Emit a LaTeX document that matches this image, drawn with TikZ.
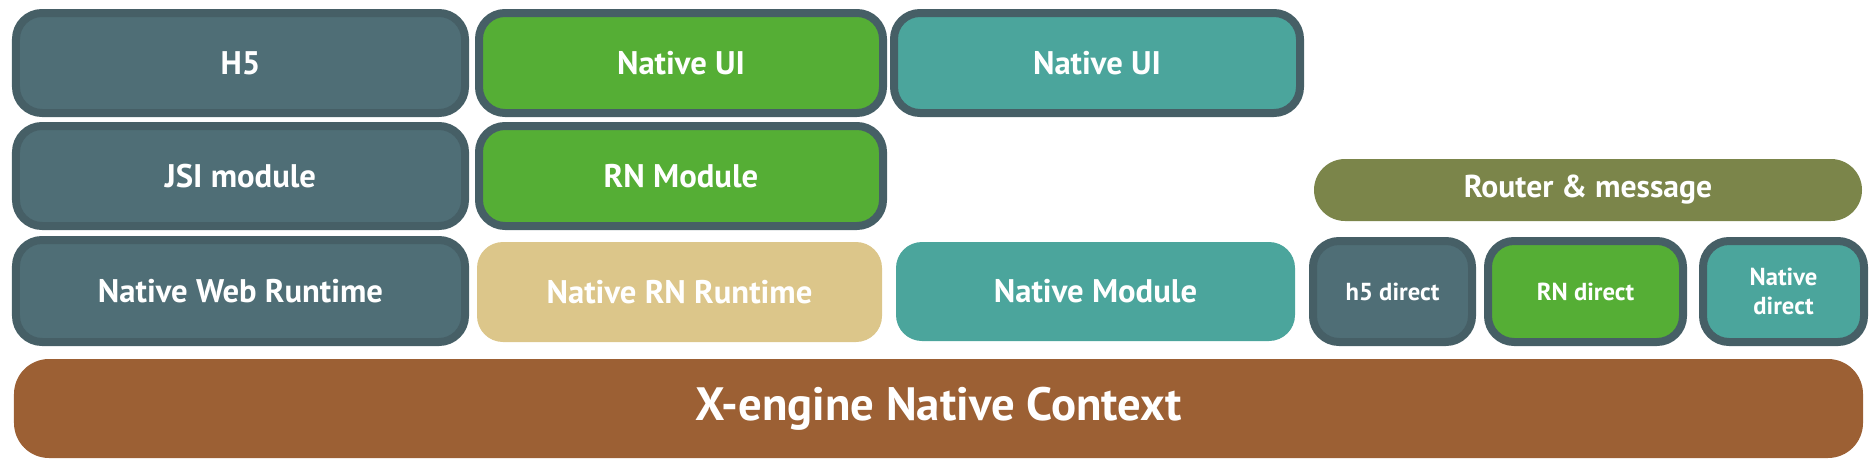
\documentclass[tikz,border=0pt]{standalone}
\usepackage{fontspec}
\setmainfont{PT Sans}
\usepackage{xcolor}
\usepackage{tikz}
\usetikzlibrary{positioning}

\definecolor{slate}{HTML}{4F6E76}
\definecolor{rim}{HTML}{465F66}
\definecolor{leaf}{HTML}{55AE35}
\definecolor{lagoon}{HTML}{4BA59C}
\definecolor{sand}{HTML}{DCC68A}
\definecolor{moss}{HTML}{7B854A}
\definecolor{rust}{HTML}{9C6034}

\begin{document}
\begin{tikzpicture}[
    tile/.style={rectangle, rounded corners=2.6mm, text=white, align=center, inner sep=0pt, font=\fontsize{9.3}{10}\selectfont\bfseries},
    rimtile/.style={tile, draw=rim, line width=0.8mm},
    smalltile/.style={rimtile, font=\fontsize{7}{8.4}\selectfont\bfseries}
  ]
    \useasboundingbox (0,0) rectangle (18.76,-4.62);

    % web column
    \node[rimtile, fill=slate, minimum width=4.49cm, minimum height=1.0cm] (h5) at (2.405,-0.63) {H5};
    \node[rimtile, fill=slate, minimum width=4.49cm, minimum height=1.0cm] (jsi) at (2.405,-1.76) {JSI module};
    \node[rimtile, fill=slate, minimum width=4.49cm, minimum height=1.02cm] (webrt) at (2.405,-2.91) {Native Web Runtime};

    % RN column
    \node[rimtile, fill=leaf, minimum width=4.04cm, minimum height=1.0cm] (rnui) at (6.81,-0.63) {Native UI};
    \node[rimtile, fill=leaf, minimum width=4.04cm, minimum height=1.0cm] (rnmod) at (6.81,-1.76) {RN Module};
    \node[tile, fill=sand, minimum width=4.05cm, minimum height=1.0cm] (rnrt) at (6.795,-2.92) {Native RN Runtime};

    % native column
    \node[rimtile, fill=lagoon, minimum width=4.06cm, minimum height=1.0cm] (natui) at (10.97,-0.63) {Native UI};
    \node[tile, fill=lagoon, minimum width=3.99cm, minimum height=0.99cm] (natmod) at (10.955,-2.915) {Native Module};

    % router
    \node[tile, fill=moss, rounded corners=3.1mm, minimum width=5.48cm, minimum height=0.62cm, font=\fontsize{9}{10}\selectfont\bfseries] (router) at (15.88,-1.90) {Router \& message};
    \node[smalltile, fill=slate, minimum width=1.59cm, minimum height=1.01cm] (h5dir) at (13.925,-2.915) {h5 direct};
    \node[smalltile, fill=leaf, minimum width=1.95cm, minimum height=1.01cm] (rndir) at (15.855,-2.915) {RN direct};
    \node[smalltile, fill=lagoon, minimum width=1.61cm, minimum height=1.01cm] (natdir) at (17.835,-2.915) {Native\\direct};

    % base
    \node[tile, fill=rust, rounded corners=3.5mm, minimum width=18.49cm, minimum height=0.99cm, font=\fontsize{13.3}{15}\selectfont\bfseries] (ctx) at (9.385,-4.085) {X-engine Native Context};
  \end{tikzpicture}
\end{document}
